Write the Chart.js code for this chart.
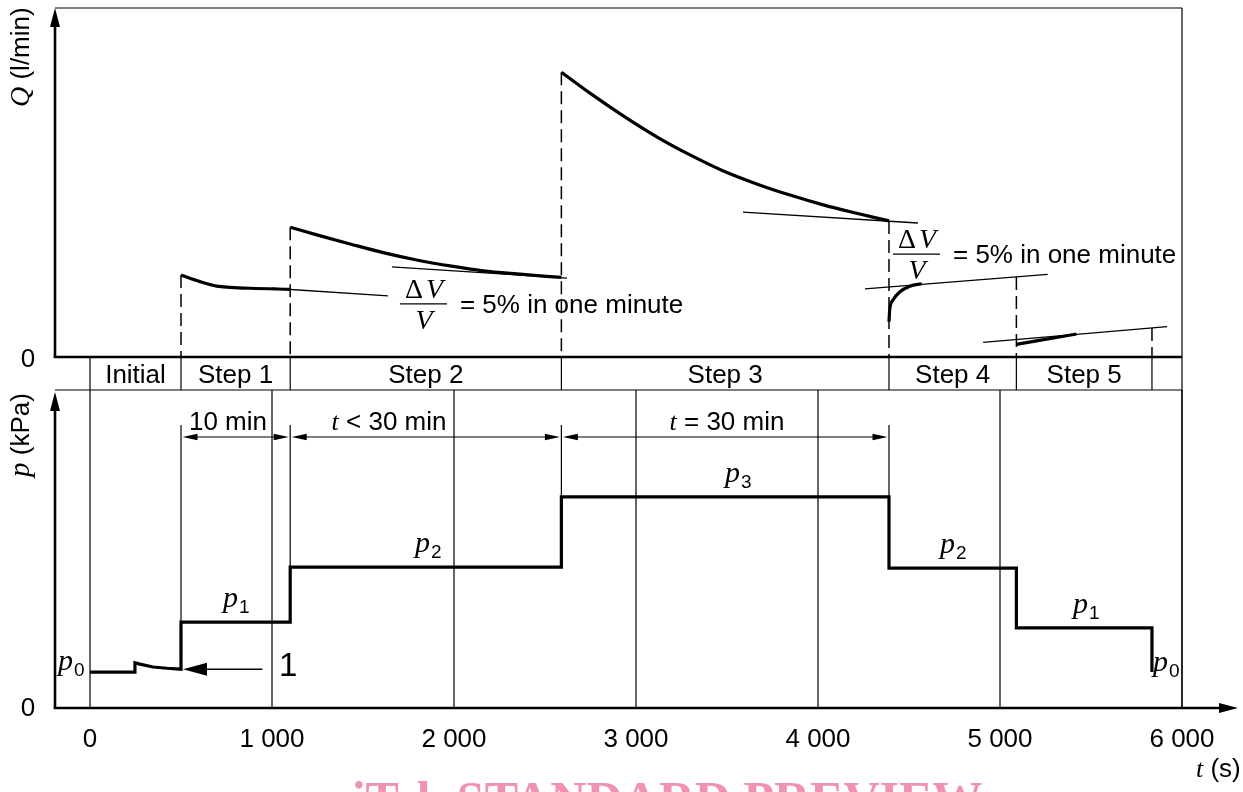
<!DOCTYPE html>
<html>
<head>
<meta charset="utf-8">
<script src="https://cdn.jsdelivr.net/npm/chart.js@4.4.1/dist/chart.umd.min.js"></script>
<style>
  html, body { margin: 0; padding: 0; background: #fff; }
  #wrap { position: relative; width: 1243px; height: 792px; }
</style>
</head>
<body>
<div id="wrap"><canvas id="chart" width="1243" height="792"></canvas></div>
<script>
// time in s; Q and p in relative units of the drawing (top of each panel = 100)
const stepNames = ['Initial', 'Step 1', 'Step 2', 'Step 3', 'Step 4', 'Step 5'];
const stepBounds = [0, 500, 1100, 2590, 4390, 5090, 5835];

const xTickValues = [0, 1000, 2000, 3000, 4000, 5000, 6000];
const xTickLabels = ['0', '1 000', '2 000', '3 000', '4 000', '5 000', '6 000'];

// pressure p (bottom panel)
const pressureTime  = [0, 247, 247, 275, 346, 423, 500, 500, 1100, 1100, 2590, 2590, 4390, 4390, 5090, 5090, 5835, 5835];
const pressureValue = [11.3, 11.3, 14.2, 13.8, 12.9, 12.5, 12.2, 27.0, 27.0, 44.3, 44.3, 66.4, 66.4, 44.0, 44.0, 25.2, 25.2, 11.3];

// flow Q per step (top panel)
const step1Time = [500, 604, 696, 769, 879, 1100];
const step1Q    = [23.5, 21.6, 20.3, 19.97, 19.7, 19.4];
const step2Time = [1100, 1246, 1429, 1611, 1795, 1978, 2161, 2345, 2590];
const step2Q    = [37.2, 35.0, 32.4, 29.9, 27.8, 26.1, 24.7, 23.8, 22.8];
const step3Time = [2590, 2747, 2930, 3114, 3297, 3480, 3663, 3846, 4029, 4212, 4390];
const step3Q    = [81.6, 75.6, 69.1, 63.1, 57.9, 53.3, 49.6, 46.4, 43.6, 41.2, 39.0];
const step4Time = [4390, 4394, 4412, 4450, 4505, 4570];
const step4Q    = [10.1, 13.5, 16.3, 18.7, 20.3, 21.0];
const step5Time = [5090, 5200, 5310, 5420];
const step5Q    = [3.6, 4.6, 5.6, 6.6];

// tangent lines (dV/V = 5 % in one minute)
const tangentTime = [[1000, 1637], [1659, 2621], [3588, 4549], [4258, 5262], [4907, 5918]];
const tangentQ    = [[19.7, 17.5], [25.8, 22.6], [41.5, 38.4], [19.5, 23.7], [4.2, 8.7]];

// dashed step markers in the Q panel
const dashTime = [500, 1100, 2590, 4390, 5090, 5835];
const dashTop  = [23.5, 37.2, 81.6, 39.0, 22.9, 8.3];

// layout of the drawing (pixels)
const TOP = 8, Q_BASE = 357, BAND = 390, P_BASE = 708;
const Q_MIN = -(P_BASE - Q_BASE) / (Q_BASE - TOP) * 100;
const P_MAX = (P_BASE - TOP) / (P_BASE - BAND) * 100;

const SANS = '"Liberation Sans", Arial, Helvetica, sans-serif';
const SERIF = '"Liberation Serif", "Times New Roman", serif';

function pts(ts, vs) {
    return ts.map((t, i) => ({ x: t, y: vs[i] }));
}

function seg(ctx, x1, y1, x2, y2, w) {
    ctx.lineWidth = w;
    ctx.beginPath();
    ctx.moveTo(x1, y1);
    ctx.lineTo(x2, y2);
    ctx.stroke();
}

function arrowHead(ctx, tx, ty, dx, dy, len, half) {
    const bx = tx - dx * len, by = ty - dy * len;
    ctx.beginPath();
    ctx.moveTo(tx, ty);
    ctx.lineTo(bx - dy * half, by + dx * half);
    ctx.lineTo(bx + dy * half, by - dx * half);
    ctx.closePath();
    ctx.fill();
}

function rich(ctx, parts, x, y, align) {
    let w = 0;
    parts.forEach(p => { ctx.font = p.font; p.w = ctx.measureText(p.text).width; w += p.w + (p.gap || 0); });
    let cx = align === 'center' ? x - w / 2 : (align === 'right' ? x - w : x);
    ctx.textAlign = 'left';
    ctx.textBaseline = 'alphabetic';
    parts.forEach(p => {
        ctx.font = p.font;
        ctx.fillText(p.text, cx, y + (p.dy || 0));
        cx += p.w + (p.gap || 0);
    });
}

const f = (size, fam, style) => (style ? style + ' ' : '') + size + 'px ' + fam;

const drawing = {
    id: 'drawing',
    beforeDatasetsDraw(chart) {
        const { ctx, scales: { x, yQ, yP } } = chart;
        const X = v => x.getPixelForValue(v);
        const top = yQ.getPixelForValue(100), base = yQ.getPixelForValue(0);
        const band = yP.getPixelForValue(100), bottom = yP.getPixelForValue(0);
        const axisX = X(0) - 35, right = X(6000);
        ctx.save();
        ctx.strokeStyle = '#000';
        ctx.fillStyle = '#000';
        ctx.lineCap = 'butt';

        // thin frame
        seg(ctx, axisX, top, right, top, 1.2);
        seg(ctx, right, top, right, bottom, 1.2);
        seg(ctx, axisX, band, right, band, 1.2);
        stepBounds.forEach(t => seg(ctx, X(t), base, X(t), band, 1.2));
        xTickValues.forEach(t => seg(ctx, X(t), band, X(t), bottom, 1.2));

        // extension lines of the time dimensions
        const dimY = band + 47;
        [500, 1100, 2590, 4390].forEach(t => {
            const lows = pressureTime.map((pt, i) => pt === t ? pressureValue[i] : Infinity);
            const low = Math.min(...lows);
            seg(ctx, X(t), band + 35, X(t), yP.getPixelForValue(low), 1.2);
        });
        [[500, 1100], [1100, 2590], [2590, 4390]].forEach(([a, b]) => {
            const xa = X(a) + 1.5, xb = X(b) - 1.5;
            seg(ctx, xa + 8, dimY, xb - 8, dimY, 1.2);
            arrowHead(ctx, xa, dimY, -1, 0, 15, 3.2);
            arrowHead(ctx, xb, dimY, 1, 0, 15, 3.2);
        });

        // callout 1
        const yCall = yP.getPixelForValue(12.2);
        seg(ctx, X(500) + 20, yCall, X(947), yCall, 1.6);
        arrowHead(ctx, X(500) + 2, yCall, -1, 0, 24, 6.5);

        // thick axes
        seg(ctx, axisX, base, axisX, top + 16, 2.6);
        arrowHead(ctx, axisX, top, 0, -1, 19, 5);
        seg(ctx, axisX - 1.3, base, right, base, 2.6);
        seg(ctx, axisX, bottom, axisX, band + 18, 2.6);
        arrowHead(ctx, axisX, band + 2, 0, -1, 19, 5);
        seg(ctx, axisX - 1.3, bottom, 1222, bottom, 2.6);
        arrowHead(ctx, 1238, bottom, 1, 0, 19, 5);
        ctx.restore();
    },
    afterDatasetsDraw(chart) {
        const { ctx, scales: { x, yQ, yP } } = chart;
        const X = v => x.getPixelForValue(v);
        const yq = v => yQ.getPixelForValue(v);
        const yp = v => yP.getPixelForValue(v);
        const base = yq(0), band = yp(100), bottom = yp(0);
        ctx.save();
        ctx.fillStyle = '#000';
        ctx.strokeStyle = '#000';
        const S = f(26, SANS), I = f(26, SERIF, 'italic');

        // axis titles
        ctx.save();
        ctx.translate(29, 107);
        ctx.rotate(-Math.PI / 2);
        rich(ctx, [{ text: 'Q', font: f(28, SERIF, 'italic') }, { text: ' (l/min)', font: S }], 0, 0, 'left');
        ctx.restore();
        ctx.save();
        ctx.translate(29, 477);
        ctx.rotate(-Math.PI / 2);
        rich(ctx, [{ text: 'p', font: f(29, SERIF, 'italic') }, { text: ' (kPa)', font: S }], 0, 0, 'left');
        ctx.restore();

        rich(ctx, [{ text: '0', font: S }], 28, base + 10, 'center');
        rich(ctx, [{ text: '0', font: S }], 28, bottom + 8, 'center');

        xTickValues.forEach((v, i) => rich(ctx, [{ text: xTickLabels[i], font: S }], X(v), bottom + 39, 'center'));
        rich(ctx, [{ text: 't', font: I }, { text: ' (s)', font: S }], 1196, bottom + 69, 'left');

        // step names in the band
        stepNames.forEach((n, i) => {
            const cx = (X(stepBounds[i]) + X(stepBounds[i + 1])) / 2;
            rich(ctx, [{ text: n, font: S }], cx, band - 7, 'center');
        });

        // time dimensions
        rich(ctx, [{ text: '10 min', font: S }], X(758), band + 40, 'center');
        rich(ctx, [{ text: 't', font: I }, { text: ' < 30 min', font: S }], X(1643), band + 40, 'center');
        rich(ctx, [{ text: 't', font: I }, { text: ' = 30 min', font: S }], X(3500), band + 40, 'center');

        // pressure level labels
        const sub = f(19, SANS);
        [[731, 27.0, '1', -15], [1786, 44.3, '2', -15], [3489, 66.4, '3', -15], [4670, 44.0, '2', -15],
         [5401, 25.2, '1', -15], [-176, 11.3, '0', -2], [5841, 11.3, '0', -1]].forEach(([t, p, s, dy]) => {
            rich(ctx, [{ text: 'p', font: f(30, SERIF, 'italic'), gap: 1 }, { text: s, font: sub, dy: 6 }], X(t), yp(p) + dy, 'left');
        });

        rich(ctx, [{ text: '1', font: f(33, SANS) }], 279, yp(12.2) + 7, 'left');

        // dV/V annotations
        [[1703, 15.2], [4412, 29.5]].forEach(([t, q]) => {
            const x0 = X(t), by = yq(q);
            seg(ctx, x0, by, x0 + 47, by, 1.3);
            rich(ctx, [{ text: '\u0394', font: f(28, SERIF), gap: 3 }, { text: 'V', font: f(28, SERIF, 'italic') }], x0 + 24, by - 6, 'center');
            rich(ctx, [{ text: 'V', font: f(28, SERIF, 'italic') }], x0 + 24, by + 25, 'center');
            rich(ctx, [{ text: '= 5% in one minute', font: S }], x0 + 60, by + 9, 'left');
        });

        // watermark of the source document
        ctx.fillStyle = '#f093b0';
        rich(ctx, [{ text: 'iTeh STANDARD PREVIEW', font: f(50, SERIF, 'bold') }], 667, 816, 'center');
        ctx.restore();
    }
};

const thick = (t, q) => ({
    data: pts(t, q), yAxisID: 'yQ', borderColor: '#000', borderWidth: 3.2,
    cubicInterpolationMode: 'monotone', pointRadius: 0, fill: false
});

const datasets = [
    {
        data: pts(pressureTime, pressureValue), yAxisID: 'yP', borderColor: '#000',
        borderWidth: 3.2, tension: 0, pointRadius: 0, fill: false, borderJoinStyle: 'miter'
    },
    thick(step1Time, step1Q),
    thick(step2Time, step2Q),
    thick(step3Time, step3Q),
    thick(step4Time, step4Q),
    thick(step5Time, step5Q)
];
tangentTime.forEach((t, i) => datasets.push({
    data: pts(t, tangentQ[i]), yAxisID: 'yQ', borderColor: '#000', borderWidth: 1.3,
    tension: 0, pointRadius: 0, fill: false
}));
dashTime.forEach((t, i) => datasets.push({
    data: pts([t, t], [dashTop[i], 0]), yAxisID: 'yQ', borderColor: '#000', borderWidth: 1.5,
    borderDash: [13, 6], tension: 0, pointRadius: 0, fill: false
}));

new Chart(document.getElementById('chart'), {
    type: 'line',
    data: { datasets },
    options: {
        responsive: false,
        animation: false,
        events: [],
        layout: { padding: { left: 90, right: 61, top: TOP, bottom: 792 - P_BASE } },
        plugins: { legend: { display: false }, tooltip: { enabled: false } },
        scales: {
            x: { type: 'linear', min: 0, max: 6000, display: false, bounds: 'data' },
            yQ: { type: 'linear', min: Q_MIN, max: 100, display: false, bounds: 'data' },
            yP: { type: 'linear', min: 0, max: P_MAX, display: false, bounds: 'data' }
        }
    },
    plugins: [drawing]
});
</script>
</body>
</html>
